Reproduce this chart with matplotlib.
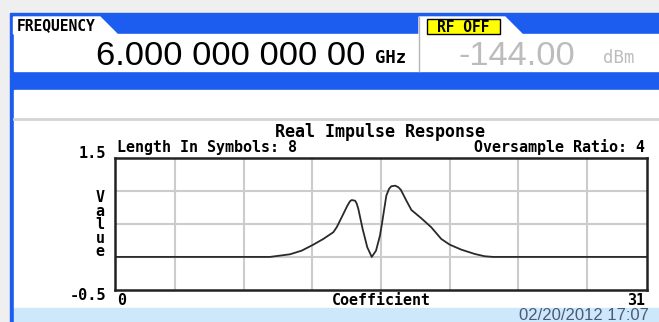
import matplotlib
matplotlib.use('Agg')
import matplotlib.pyplot as plt
from matplotlib.patches import Rectangle, Polygon

# impulse response taps (coefficient index, value)
coef = [0, 9.03, 9.62, 10.20, 10.88, 11.56, 12.14, 12.72, 12.92, 13.21, 13.54,
        13.69, 13.79, 13.99, 14.08, 14.18, 14.30, 14.43, 14.70, 14.96, 15.21,
        15.44, 15.56, 15.81, 15.97, 16.10, 16.33, 16.50, 16.65, 16.98, 17.27,
        17.85, 18.43, 19.01, 19.50, 20.18, 20.96, 21.54, 22.03, 31]
value = [0, 0, 0.02, 0.04, 0.095, 0.186, 0.272, 0.373, 0.449, 0.60, 0.775,
         0.84, 0.86, 0.85, 0.81, 0.725, 0.58, 0.423, 0.146, 0.0, 0.095,
         0.322, 0.51, 0.926, 1.03, 1.068, 1.077, 1.055, 1.017, 0.85, 0.71,
         0.584, 0.448, 0.272, 0.186, 0.11, 0.045, 0.01, 0, 0]

x_lo, x_hi = 0, 31
y_lo, y_hi = -0.5, 1.5
grid_x = [3.5, 7.5, 11.5, 15.5, 19.5, 23.5, 27.5]
grid_y = [0, 0.5, 1.0]

frequency = '6.000 000 000 00'
freq_unit = 'GHz'
amplitude = '-144.00'
amp_unit = 'dBm'
title = 'Real Impulse Response'
symbols = 8
oversample = 4
timestamp = '02/20/2012 17:07'

W, H = 659, 322
blue = '#1c5cee'
mono = 'DejaVu Sans Mono'
sans = 'Liberation Sans'

fig = plt.figure(figsize=(W / 100, H / 100), dpi=100)

# screen furniture, drawn in pixel units
bg = fig.add_axes([0, 0, 1, 1])
bg.set_xlim(0, W)
bg.set_ylim(H, 0)
bg.axis('off')
bg.add_patch(Rectangle((0, 0), W, H, color='#efefef'))
bg.add_patch(Rectangle((10, 13), W - 10, H - 13, color=blue))
bg.add_patch(Rectangle((13.5, 34), W - 13.5, 37, color='white'))
bg.add_patch(Rectangle((13.5, 90), W - 13.5, 218, color='white'))
bg.add_patch(Rectangle((13.5, 308), W - 13.5, 14, color='#cde7fb'))
bg.add_patch(Polygon([(13.5, 17), (100, 17), (117, 34), (13.5, 34)], color='white'))
bg.add_patch(Polygon([(419, 17), (505, 17), (522, 34), (419, 34)], color='white'))
bg.plot([419, 419], [17, 71], color='#b4b4b4', lw=1)
bg.plot([13.5, W], [119, 119], color='#d4d4d4', lw=2)
bg.add_patch(Rectangle((427, 18.5), 73, 15, facecolor='#ffff00', edgecolor='black', lw=1))

bg.text(17, 30.5, 'FREQUENCY', family=mono, weight='bold', size=10.5, va='baseline')
bg.text(365, 65, frequency, family=sans, size=24.8, ha='right', va='baseline')
bg.text(375, 63, freq_unit, family=mono, weight='bold', size=12.4, va='baseline')
bg.text(463.5, 31.5, 'RF OFF', family=mono, weight='bold', size=10.5, ha='center', va='baseline')
bg.text(575, 65, amplitude, family=sans, size=24.8, color='#bcbcbc', ha='right', va='baseline')
bg.text(603, 63, amp_unit, family=mono, size=12.5, color='#bcbcbc', va='baseline')
bg.text(519, 320.5, timestamp, family=sans, size=12, color='#4b5b73', va='baseline')

# chart labels
bg.text(380, 137, title, family=mono, weight='bold', size=12, ha='center', va='baseline')
bg.text(117, 152, f'Length In Symbols: {symbols}', family=mono, weight='bold', size=10.8,
        va='baseline')
bg.text(645, 152, f'Oversample Ratio: {oversample}', family=mono, weight='bold', size=10.8,
        ha='right', va='baseline')
bg.text(106, 158, f'{y_hi:g}', family=mono, weight='bold', size=11, ha='right', va='baseline')
bg.text(106, 300, f'{y_lo:g}', family=mono, weight='bold', size=11, ha='right', va='baseline')
for i, ch in enumerate('Value'):
    bg.text(100, 202 + 13.5 * i, ch, family=mono, weight='bold', size=10.8,
            ha='center', va='baseline')
bg.text(117, 305, f'{x_lo}', family=mono, weight='bold', size=10.8, va='baseline')
bg.text(381, 305, 'Coefficient', family=mono, weight='bold', size=10.8, ha='center', va='baseline')
bg.text(645, 305, f'{x_hi}', family=mono, weight='bold', size=10.8, ha='right', va='baseline')

# the response plot
ax = fig.add_axes([115 / W, (H - 290) / H, 532 / W, 132.3 / H])
ax.set_facecolor('white')
ax.set_xlim(x_lo, x_hi)
ax.set_ylim(y_lo, y_hi)
ax.set_xticks(grid_x)
ax.set_yticks(grid_y)
ax.tick_params(length=0, labelbottom=False, labelleft=False)
ax.grid(True, color='#cccccc', lw=1.5)
for s in ax.spines.values():
    s.set_color('#222222')
    s.set_linewidth(1.8)
ax.plot(coef, value, color='#2a2a2a', lw=1.3)

fig.savefig('out.png', dpi=100)
